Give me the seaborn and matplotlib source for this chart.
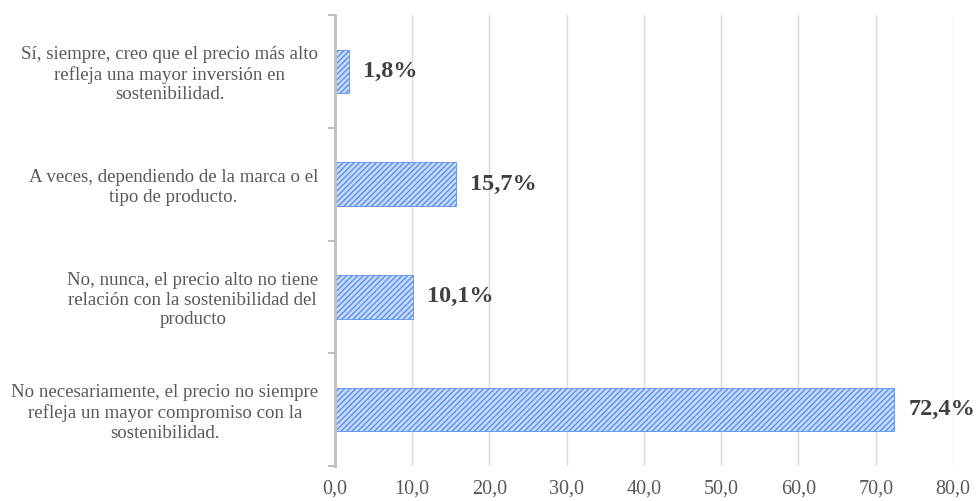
import matplotlib
matplotlib.use("Agg")
import matplotlib.pyplot as plt
import seaborn as sns
import pandas as pd

# Survey answers (top to bottom) and their share of respondents in %
categories = [
    "Sí, siempre, creo que el precio más alto\nrefleja una mayor inversión en\nsostenibilidad.",
    "A veces, dependiendo de la marca o el\ntipo de producto.",
    "No, nunca, el precio alto no tiene\nrelación con la sostenibilidad del\nproducto",
    "No necesariamente, el precio no siempre\nrefleja un mayor compromiso con la\nsostenibilidad.",
]
values = [1.8, 15.7, 10.1, 72.4]
x_ticks = [0, 10, 20, 30, 40, 50, 60, 70, 80]

df = pd.DataFrame({"respuesta": categories, "porcentaje": values})

sns.set_theme(style="white")
plt.rcParams["font.family"] = ["Liberation Serif", "DejaVu Serif"]
plt.rcParams["hatch.color"] = "#5b8ff2"
plt.rcParams["hatch.linewidth"] = 1.0

fig = plt.figure(figsize=(9.76, 5.01), dpi=100)
ax = fig.add_axes([0.3432, 0.0699, 0.6332, 0.9001])

sns.barplot(data=df, x="porcentaje", y="respuesta", orient="h",
            color="#c6dafb", width=0.385, ax=ax, saturation=1)
for bar in ax.patches:
    bar.set_hatch("//////")
    bar.set_edgecolor("#5b8ff2")
    bar.set_linewidth(0.6)

# value labels
for i, v in enumerate(values):
    ax.text(v + 1.8, i, f"{v:.1f}%".replace(".", ","), va="center", ha="left",
            fontsize=17.5, fontweight="bold", color="#404040")

ax.set_xlim(0, 80)
ax.set_ylim(3.5, -0.5)
ax.set_xticks(x_ticks)
ax.set_xticklabels([f"{t:.1f}".replace(".", ",") for t in x_ticks])
ax.set_xlabel("")
ax.set_ylabel("")

ax.grid(axis="x", color="#d9d9d9", linewidth=1.0)
ax.set_axisbelow(True)

for s in ["top", "right", "bottom"]:
    ax.spines[s].set_visible(False)
ax.spines["left"].set_color("#bfbfbf")
ax.spines["left"].set_linewidth(2.0)

ax.tick_params(axis="y", which="major", left=False, length=0, pad=12,
               labelsize=13.6, labelcolor="#595959")
ax.set_yticks([-0.5, 0.5, 1.5, 2.5, 3.5], minor=True)
ax.tick_params(axis="y", which="minor", left=True, length=5, width=1.5,
               color="#bfbfbf", direction="out")
for lbl in ax.get_yticklabels():
    lbl.set_multialignment("center")
    lbl.set_linespacing(1.2)
ax.tick_params(axis="x", bottom=False, length=0, pad=10, labelsize=14.5, labelcolor="#595959")

fig.savefig("out.png", dpi=100)
